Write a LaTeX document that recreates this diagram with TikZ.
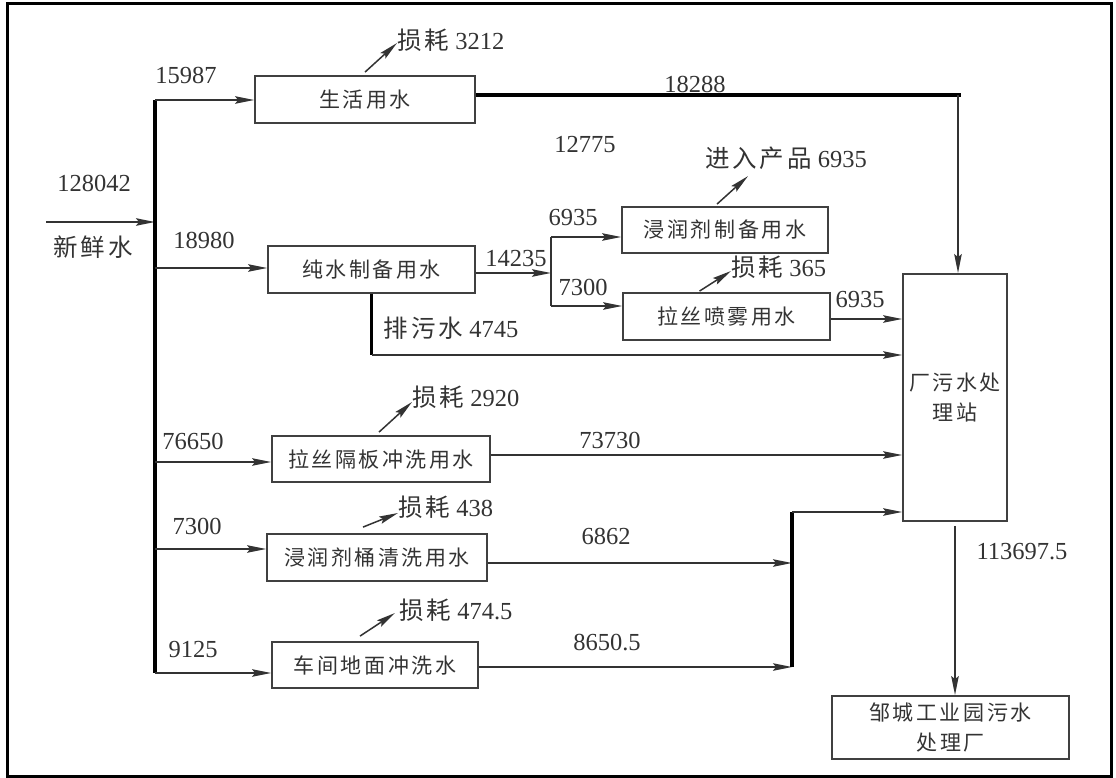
\documentclass[tikz,border=0pt]{standalone}
\usepackage{fontspec}
\setmainfont{Liberation Serif}
\newfontfamily\cjk[LetterSpace=12]{Noto Sans CJK SC}
\usepackage{xcolor}
\usepackage{tikz}
\usetikzlibrary{arrows.meta}
\newcommand{\zh}[1]{{\cjk #1}}

\begin{document}
\begin{tikzpicture}[x=1pt, y=-1pt,
        box/.style={draw=black!75, line width=1.8pt, inner sep=0pt, text=black!80, align=center, font=\cjk\fontsize{21}{30}\selectfont},
        flow/.style={draw=black!80, line width=1.5pt, -{Stealth[length=19pt, width=7.5pt, inset=3pt]}},
        pipe/.style={draw=black!80, line width=1.5pt},
        bold/.style={draw=black, line width=3.5pt},
        num/.style={inner sep=0pt, text=black!80, font=\fontsize{24.5}{27}\selectfont}]
        \useasboundingbox (0,0) rectangle (1116,778);
        \draw[line width=3pt] (7,4) rectangle (1111,776);

        \node[box, minimum width=220, minimum height=47] (shls) at (365,99.5) {生活用水};
        \node[box, minimum width=207, minimum height=47] (cszb) at (371.5,269.5) {纯水制备用水};
        \node[box, minimum width=206, minimum height=46] (jrzb) at (725,230) {浸润剂制备用水};
        \node[box, minimum width=207, minimum height=47] (lspw) at (726.5,316.5) {拉丝喷雾用水};
        \node[box, minimum width=218, minimum height=46] (lsgb) at (381,459) {拉丝隔板冲洗用水};
        \node[box, minimum width=220, minimum height=47] (jrtq) at (377,557.5) {浸润剂桶清洗用水};
        \node[box, minimum width=206, minimum height=46] (cjdm) at (375,665) {车间地面冲洗水};
        \node[box, minimum width=104, minimum height=247] (wsz) at (955,397.5) {厂污水处\\理站};
        \node[box, minimum width=237, minimum height=63] (zcgy) at (950.5,727.5) {邹城工业园污水\\处理厂};

        \coordinate (fresh) at (46,222);
        \coordinate (bus) at (155,0);
        \coordinate (b1) at (155,100);
        \coordinate (b2) at (155,268);
        \coordinate (b3) at (155,462);
        \coordinate (b4) at (155,549);
        \coordinate (b5) at (155,673);
        \draw[flow] (fresh) -- (fresh -| bus);
        \draw[bold] (b1) -- (b5);
        \foreach \tap/\unit in {b1/shls, b2/cszb, b3/lsgb, b4/jrtq, b5/cjdm}
            \draw[flow] (\tap) -- (\tap -| \unit.west);

        \coordinate (turn) at (958,95);
        \draw[bold] (turn -| shls.east) -- ([xshift=3pt]turn);
        \draw[flow] (turn) -- (turn |- wsz.north);

        \coordinate (s0) at (551,273);
        \coordinate (s1) at (551,237);
        \coordinate (s2) at (551,306);
        \draw[flow] (s0 -| cszb.east) -- (s0);
        \draw[pipe] (s1) -- (s2);
        \draw[flow] (s1) -- (s1 -| jrzb.west);
        \draw[flow] (s2) -- (s2 -| lspw.west);

        \coordinate (r1) at (0,319);
        \coordinate (r2) at (0,355);
        \coordinate (r3) at (0,455);
        \coordinate (r4) at (0,512);
        \coordinate (r5) at (0,563);
        \coordinate (r6) at (0,667);
        \coordinate (col) at (792,0);
        \draw[flow] (r1 -| lspw.east) -- (r1 -| wsz.west);
        \draw[bold] (cszb.south) -- (cszb.south |- r2);
        \draw[flow] (cszb.south |- r2) -- (r2 -| wsz.west);
        \draw[flow] (r3 -| lsgb.east) -- (r3 -| wsz.west);
        \draw[flow] (r5 -| jrtq.east) -- (r5 -| col);
        \draw[flow] (r6 -| cjdm.east) -- (r6 -| col);
        \draw[bold] (col |- r4) -- (col |- r6);
        \draw[flow] (col |- r4) -- (r4 -| wsz.west);
        \draw[flow] ([yshift=-4pt]wsz.south) -- (wsz.south |- zcgy.north);

        \node[num, anchor=west] (loss1) at (397,40) {\zh{损耗} 3212};
        \node[num] (prod) at (786,158) {\zh{进入产品} 6935};
        \node[num, anchor=west] (loss2) at (731,267) {\zh{损耗} 365};
        \node[num, anchor=west] (loss3) at (412,397) {\zh{损耗} 2920};
        \node[num, anchor=west] (loss4) at (398,507) {\zh{损耗} 438};
        \node[num, anchor=west] (loss5) at (399,610) {\zh{损耗} 474.5};
        \draw[flow] ([yshift=3pt]shls.north) -- ([yshift=-3pt]loss1.west);
        \draw[flow] ([xshift=-8pt, yshift=2pt]jrzb.north) -- ++(31,-28);
        \draw[flow] ([xshift=-27pt, yshift=1pt]lspw.north) -- ([yshift=-4pt]loss2.west);
        \draw[flow] ([xshift=-2pt, yshift=3pt]lsgb.north) -- ([yshift=-5pt]loss3.west);
        \draw[flow] ([xshift=-14pt, yshift=6pt]jrtq.north) -- ([yshift=-6pt]loss4.west);
        \draw[flow] ([xshift=-15pt, yshift=5pt]cjdm.north) -- ([xshift=-4pt, yshift=-3pt]loss5.west);

        \node[num] (q0) at (94,183) {128042};
        \node[num] (fw) at (93,247) {\zh{新鲜水}};
        \node[num] (q1) at (186,75) {15987};
        \node[num] (q2) at (204,240) {18980};
        \node[num] (q3) at (193,441) {76650};
        \node[num] (q4) at (197,526) {7300};
        \node[num] (q5) at (193,650) {9125};
        \node[num] (q6) at (695,84) {18288};
        \node[num] (q7) at (585,145) {12775};
        \node[num] (q8) at (516,259) {14235};
        \node[num] (q9) at (573,218) {6935};
        \node[num] (q10) at (583,287) {7300};
        \node[num] (q11) at (860,300) {6935};
        \node[num] (q12) at (451,328) {\zh{排污水} 4745};
        \node[num] (q13) at (610,440) {73730};
        \node[num] (q14) at (606,536) {6862};
        \node[num] (q15) at (607,643) {8650.5};
        \node[num] (q16) at (1022,552) {113697.5};
    \end{tikzpicture}
\end{document}
